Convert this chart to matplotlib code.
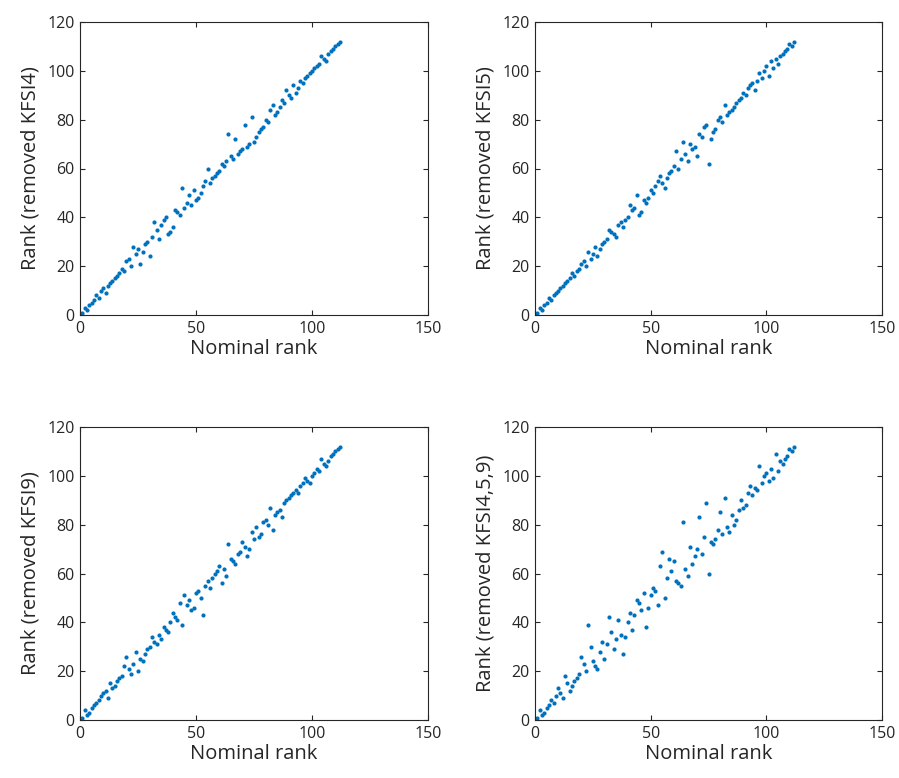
import numpy as np
import matplotlib.pyplot as plt

# nominal rank (1..112)
nominal = np.arange(1, 113)

# rank after removing KFSI4
rank_kfsi4 = [1, 3, 2, 4, 5, 6, 8, 7, 10, 11, 9, 12, 13, 14, 15, 16, 17, 19, 18, 22,
              23, 20, 28, 25, 27, 21, 26, 29, 30, 24, 32, 38, 35, 31, 37, 39, 40, 33, 34, 36,
              43, 42, 41, 52, 44, 46, 49, 45, 51, 47, 48, 50, 53, 55, 60, 54, 56, 57, 58, 59,
              62, 61, 63, 74, 65, 64, 72, 66, 67, 68, 78, 69, 70, 81, 71, 73, 75, 76, 77, 80,
              79, 84, 86, 82, 83, 85, 88, 87, 92, 90, 89, 94, 91, 93, 96, 95, 97, 98, 99, 100,
              101, 102, 103, 106, 105, 104, 107, 108, 109, 110, 111, 112]

# rank after removing KFSI5
rank_kfsi5 = [1, 3, 2, 4, 5, 7, 6, 8, 9, 10, 11, 12, 13, 14, 15, 17, 16, 18, 19, 21,
              22, 20, 26, 23, 25, 28, 24, 27, 29, 30, 31, 35, 34, 33, 32, 37, 38, 36, 39, 40,
              45, 43, 44, 49, 41, 42, 47, 46, 48, 51, 50, 53, 55, 57, 54, 52, 56, 58, 59, 61,
              67, 60, 64, 71, 66, 63, 70, 68, 69, 65, 74, 73, 77, 78, 62, 72, 75, 76, 80, 81,
              79, 86, 82, 83, 84, 85, 87, 88, 89, 91, 90, 93, 94, 95, 92, 96, 99, 97, 100, 102,
              98, 104, 101, 105, 103, 106, 107, 108, 109, 111, 110, 112]

# rank after removing KFSI9
rank_kfsi9 = [1, 4, 2, 3, 5, 6, 7, 8, 10, 11, 12, 9, 15, 13, 14, 16, 17, 18, 22, 26,
              21, 19, 23, 28, 20, 25, 24, 27, 29, 30, 34, 32, 31, 35, 33, 38, 37, 36, 40, 44,
              42, 41, 48, 39, 51, 47, 49, 45, 46, 52, 53, 50, 43, 55, 57, 54, 58, 60, 61, 63,
              56, 62, 59, 72, 66, 65, 64, 68, 69, 73, 71, 67, 70, 77, 74, 79, 75, 76, 81, 82,
              80, 87, 78, 84, 85, 86, 83, 89, 90, 91, 92, 93, 94, 93, 96, 97, 99, 98, 97, 100,
              101, 103, 102, 107, 105, 104, 106, 108, 109, 110, 111, 112]

# rank after removing KFSI4,5,9
rank_kfsi459 = [1, 4, 2, 3, 5, 6, 8, 7, 10, 13, 11, 9, 18, 15, 12, 14, 16, 17, 19, 26,
                23, 20, 39, 30, 24, 22, 21, 28, 32, 25, 31, 42, 36, 29, 33, 41, 35, 27, 34, 40,
                44, 37, 43, 49, 48, 45, 52, 38, 46, 51, 54, 53, 47, 63, 69, 50, 58, 66, 61, 65,
                57, 56, 55, 81, 62, 59, 71, 64, 67, 70, 83, 68, 75, 89, 60, 73, 72, 74, 78, 85,
                76, 91, 79, 77, 84, 80, 82, 86, 90, 87, 88, 93, 96, 92, 95, 94, 104, 97, 100, 101,
                98, 103, 99, 109, 102, 106, 105, 107, 108, 111, 110, 112]

ylabels = ['Rank (removed KFSI4)', 'Rank (removed KFSI5)',
           'Rank (removed KFSI9)', 'Rank (removed KFSI4,5,9)']
series = [rank_kfsi4, rank_kfsi5, rank_kfsi9, rank_kfsi459]

plt.rcParams['font.family'] = ['Open Sans', 'DejaVu Sans']

fig = plt.figure(figsize=(8.99, 7.78), dpi=100)

# axes positions in figure fractions (left, bottom, width, height)
positions = [
    [80 / 899, 1 - 315 / 778, 348 / 899, 293 / 778],
    [535 / 899, 1 - 315 / 778, 347 / 899, 293 / 778],
    [80 / 899, 1 - 720 / 778, 348 / 899, 293 / 778],
    [535 / 899, 1 - 720 / 778, 347 / 899, 293 / 778],
]

dark = '#262626'
for pos, ys, lab in zip(positions, series, ylabels):
    ax = fig.add_axes(pos)
    ax.scatter(nominal, ys, s=9, color='#0072BD', linewidths=0)
    ax.set_xlim(0, 150)
    ax.set_ylim(0, 120)
    ax.set_xticks([0, 50, 100, 150])
    ax.set_yticks([0, 20, 40, 60, 80, 100, 120])
    ax.tick_params(direction='in', top=True, right=True, length=3.5,
                   width=0.8, labelsize=11.5, colors=dark, pad=4)
    for sp in ax.spines.values():
        sp.set_color(dark)
        sp.set_linewidth(0.8)
    ax.set_xlabel('Nominal rank', fontsize=14.5, color=dark, labelpad=2)
    ax.set_ylabel(lab, fontsize=14.5, color=dark, labelpad=5)

fig.savefig('out.png', dpi=100)
